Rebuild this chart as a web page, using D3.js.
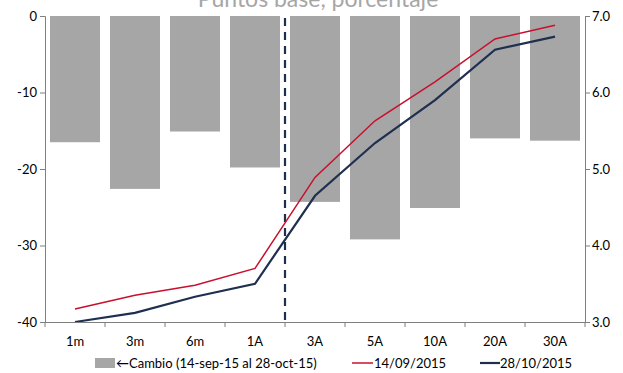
<!DOCTYPE html>
<html><head><meta charset="utf-8">
<script src="https://cdn.jsdelivr.net/npm/d3@7"></script>
<style>body{margin:0;background:#fff}svg{display:block}text{font-family:Lato,"Open Sans",sans-serif}</style>
</head><body><svg id="c" width="623" height="373"></svg>
<script>
const categories = ["1m","3m","6m","1A","3A","5A","10A","20A","30A"];
const cambio = [-16.5,-22.6,-15.1,-19.8,-24.3,-29.2,-25.1,-16.0,-16.3];
const serie1409 = [3.17,3.35,3.48,3.70,4.89,5.63,6.14,6.70,6.88];
const serie2810 = [3.00,3.12,3.33,3.50,4.65,5.34,5.90,6.56,6.73];
const leftTicks = [0,-10,-20,-30,-40];
const rightTicks = [3,4,5,6,7];
const title = "Puntos base, porcentaje";
const legendLabels = ["\u2190Cambio (14-sep-15 al 28-oct-15)","14/09/2015","28/10/2015"];

const svg = d3.select("#c");
const L = 45, R = 585, T = 16, B = 322;
const x = d3.scaleBand().domain(categories).range([L,R]).paddingInner(1/6).paddingOuter(1/12);
const xb = d3.scaleBand().domain(categories).range([L,R]);
const yL = d3.scaleLinear().domain([-40,0]).range([B,T]);
const yR = d3.scaleLinear().domain([3,7]).range([B,T]);
const axisCol = "#7f7f7f";

svg.append("text").attr("x",318).attr("y",7).attr("text-anchor","middle")
  .attr("fill","#a6a6a6").attr("font-size",23).text(title);

svg.append("g").selectAll("rect").data(categories).join("rect")
  .attr("x",d=>x(d)).attr("width",x.bandwidth())
  .attr("y",yL(0)).attr("height",(d,i)=>yL(cambio[i])-yL(0))
  .attr("fill","#a6a6a6");

// dashed divider between 1A and 3A
svg.append("line").attr("x1",xb("3A")).attr("x2",xb("3A")).attr("y1",T+2).attr("y2",B)
  .attr("stroke","#1f2f4f").attr("stroke-width",2.2).attr("stroke-dasharray","8,6");

const line = arr => d3.line().x((d,i)=>xb(categories[i])+xb.bandwidth()/2).y(d=>yR(d))(arr);
svg.append("path").attr("d",line(serie1409)).attr("fill","none").attr("stroke","#c8102e").attr("stroke-width",1.5);
svg.append("path").attr("d",line(serie2810)).attr("fill","none").attr("stroke","#1f2f4f").attr("stroke-width",2.2);

const gl = svg.append("g").attr("transform",`translate(${L},0)`)
  .call(d3.axisLeft(yL).tickValues(leftTicks).tickSize(5).tickFormat(d=>String(d)));
const gr = svg.append("g").attr("transform",`translate(${R},0)`)
  .call(d3.axisRight(yR).tickValues(rightTicks).tickSize(5).tickFormat(d=>d.toFixed(1)));
const gx = svg.append("g").attr("transform",`translate(0,${B})`)
  .call(d3.axisBottom(xb).tickSize(0).tickPadding(15));
// boundary ticks on x axis
svg.append("g").selectAll("line").data(d3.range(categories.length+1)).join("line")
  .attr("x1",i=>L+i*xb.step()).attr("x2",i=>L+i*xb.step()).attr("y1",B).attr("y2",B+5)
  .attr("stroke",axisCol);
[gl,gr,gx].forEach(g=>{
  g.select(".domain").attr("stroke",axisCol);
  g.selectAll(".tick line").attr("stroke",axisCol);
  g.selectAll("text").attr("fill","#000").attr("font-size",13).attr("font-family","Lato,sans-serif");
});
gl.selectAll("text").attr("x",-8);
gr.selectAll("text").attr("x",7);

// legend
const ly = 363;
svg.append("rect").attr("x",95).attr("y",ly-5).attr("width",20).attr("height",10).attr("fill","#a6a6a6");
svg.append("text").attr("x",116).attr("y",ly+4.5).attr("font-size",13).text(legendLabels[0]);
svg.append("line").attr("x1",352).attr("x2",373).attr("y1",ly).attr("y2",ly).attr("stroke","#c8102e").attr("stroke-width",1.5);
svg.append("text").attr("x",374).attr("y",ly+4.5).attr("font-size",13).text(legendLabels[1]);
svg.append("line").attr("x1",480).attr("x2",500).attr("y1",ly).attr("y2",ly).attr("stroke","#1f2f4f").attr("stroke-width",2.2);
svg.append("text").attr("x",500).attr("y",ly+4.5).attr("font-size",13).text(legendLabels[2]);
</script></body></html>
